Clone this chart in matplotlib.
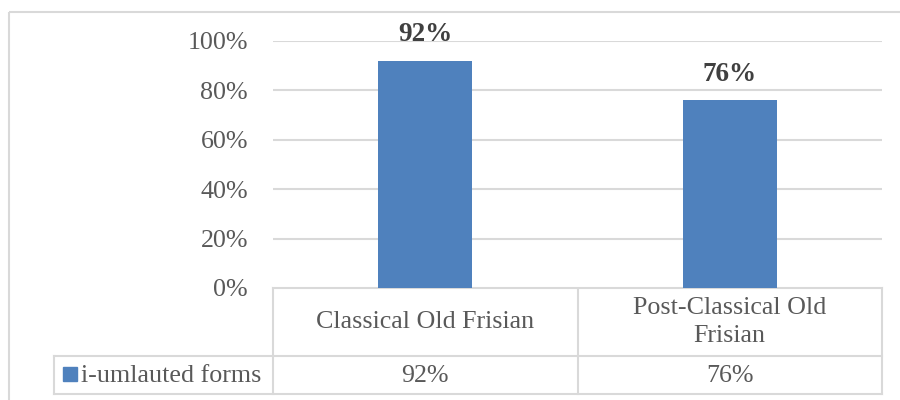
import matplotlib
matplotlib.use("Agg")
import matplotlib.pyplot as plt
from matplotlib.patches import Rectangle

# data
periods = ["Classical Old Frisian", "Post-Classical Old\nFrisian"]
series_name = "i-umlauted forms"
umlaut_share = [0.92, 0.76]
y_ticks = [0, 0.2, 0.4, 0.6, 0.8, 1.0]

W, H = 900, 400
GRID = "#D9D9D9"
TXT = "#595959"
BLUE = "#4F81BD"
FS = 18.7

plt.rcParams["font.family"] = ["Liberation Serif", "DejaVu Serif"]

fig = plt.figure(figsize=(W / 100, H / 100), dpi=100)

# plot area in pixels
px_left, px_right = 273, 882
px_top, px_bottom = 41, 288
tbl_left, tbl_mid, tbl_bottom = 54, 356, 394

def fx(x):
    return x / W

def fy(y):
    return 1 - y / H

ax = fig.add_axes([fx(px_left), fy(px_bottom), fx(px_right - px_left),
                   (px_bottom - px_top) / H])
n = len(periods)
xs = list(range(n))
bars = ax.bar(xs, umlaut_share, width=0.31, color=BLUE, zorder=3)
ax.set_xlim(-0.5, n - 0.5)
ax.set_ylim(0, 1)
ax.set_yticks(y_ticks)
ax.set_yticklabels([f"{int(round(t * 100))}%" for t in y_ticks],
                   fontsize=FS, color=TXT)
ax.tick_params(axis="y", length=0, pad=18)
ax.set_xticks([])
for sp in ax.spines.values():
    sp.set_visible(False)
ax.grid(axis="y", color=GRID, linewidth=1.5, zorder=0)

for x, v in zip(xs, umlaut_share):
    ax.annotate(f"{int(round(v * 100))}%", (x, v), xytext=(0, 14),
                textcoords="offset points", ha="center", va="baseline",
                fontsize=19.5, fontweight="bold", color="#404040")

# overlay for the data table and chart border, in pixel coordinates
ov = fig.add_axes([0, 0, 1, 1], zorder=-1)
ov.set_xlim(0, W)
ov.set_ylim(H, 0)
ov.axis("off")

ov.add_patch(Rectangle((9, 11.5), W + 20, H + 20, fill=False,
                       edgecolor=GRID, linewidth=1.5))

col_w = (px_right - px_left) / n
col_edges = [px_left + i * col_w for i in range(n + 1)]
lw = 1.5
# header row (categories)
ov.plot([px_left, px_right], [px_bottom, px_bottom], color=GRID, lw=lw)
# data row
ov.plot([tbl_left, px_right], [tbl_mid, tbl_mid], color=GRID, lw=lw)
ov.plot([tbl_left, px_right], [tbl_bottom, tbl_bottom], color=GRID, lw=lw)
ov.plot([tbl_left, tbl_left], [tbl_mid, tbl_bottom], color=GRID, lw=lw)
for e in col_edges:
    ov.plot([e, e], [px_bottom, tbl_bottom], color=GRID, lw=lw)

for i, name in enumerate(periods):
    cx = (col_edges[i] + col_edges[i + 1]) / 2
    ov.text(cx, (px_bottom + tbl_mid) / 2, name, ha="center", va="center",
            fontsize=FS, color=TXT, linespacing=1.4)
    ov.text(cx, (tbl_mid + tbl_bottom) / 2 + 1,
            f"{int(round(umlaut_share[i] * 100))}%", ha="center", va="center",
            fontsize=FS, color=TXT)

ov.add_patch(Rectangle((63, 367), 14, 14, color=BLUE))
ov.text(81, (tbl_mid + tbl_bottom) / 2 + 1, series_name, ha="left",
        va="center", fontsize=FS, color=TXT)

fig.savefig("out.png", dpi=100)
